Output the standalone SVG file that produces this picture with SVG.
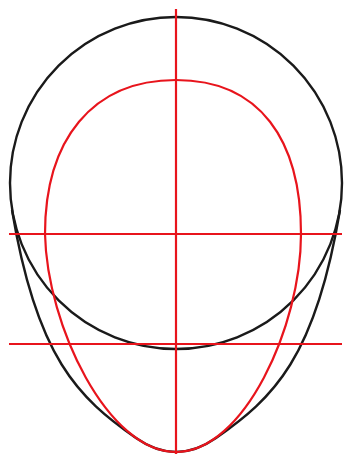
<svg xmlns="http://www.w3.org/2000/svg" width="344" height="454" viewBox="0 0 344 454">
<style>
.k{fill:none;stroke:#1a1a1a;stroke-width:2.4}
.r{fill:none;stroke:#e8141c;stroke-width:2.2}
</style>
<rect width="344" height="454" fill="#fff"/>
<circle class="k" cx="176" cy="183" r="166"/>
<path class="k" d="M12,210 C36.5,358 78.6,398 136,438 Q156,452 176,452 Q196,452 216,438 C273.4,398 315.5,358 340,210"/>
<path class="r" d="M176,80 C260,80 301,140 301,234 C301,326 244,452 176,452 C108,452 47,326 45,234 C45,140 92,80 176,80 Z"/>
<line class="r" x1="176" y1="9" x2="176" y2="454"/>
<line class="r" x1="9" y1="234" x2="342" y2="234"/>
<line class="r" x1="9" y1="344" x2="342" y2="344"/>
</svg>
